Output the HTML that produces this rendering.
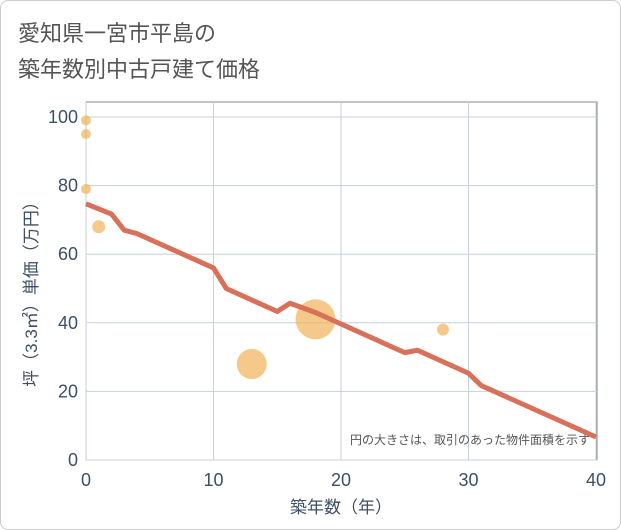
<!DOCTYPE html>
<html><head><meta charset="utf-8"><style>
body{margin:0;background:#fff;}
#card{position:absolute;left:0;top:0;width:619px;height:528px;border:1px solid #ccc;border-radius:8px;background:#fff;}
svg{position:absolute;left:0;top:0;font-family:"Liberation Sans","Noto Sans CJK JP",sans-serif;}
</style></head><body>
<div id="card"></div>
<svg id="chart" width="621" height="530">
<text x="18" y="41" font-size="22" fill="#555">愛知県一宮市平島の</text>
<text x="18" y="77" font-size="22" fill="#555">築年数別中古戸建て価格</text>
<rect x="86" y="102" width="511" height="358" fill="none" stroke="#888"/>
<g id="grid"></g><g id="bubbles"></g><g id="line"></g><g id="axes"></g>
<text x="590" y="444" font-size="12" fill="#555" text-anchor="end">円の大きさは、取引のあった物件面積を示す</text>
<text x="341" y="513" font-size="17" fill="#3d4f66" text-anchor="middle">築年数（年）</text>
<text transform="translate(37,290) rotate(-90)" font-size="17" fill="#3d4f66" text-anchor="middle">坪（3.3㎡）単価（万円）</text>
</svg>
<script>
const xTicks=[0,10,20,30,40];
const yTicks=[0,20,40,60,80,100];
const bubbleX=[0,0,0,1,13,18,28];
const bubbleY=[99,95,79,68,28,41,38];
const bubbleR=[5,5,5,6.5,15,20,6];
const lineX=[0,2,3,4,10,11,15,16,18,25,26,30,31,40];
const lineY=[74.7,71.7,67,66,56,50,43.3,45.7,43,31.3,32,25.3,21.7,6.7];
const NS="http://www.w3.org/2000/svg";
const sx=v=>86+v*12.75, sy=v=>460-v*3.43;
function mk(t,a,p){const e=document.createElementNS(NS,t);for(const k in a)e.setAttribute(k,a[k]);p.appendChild(e);return e;}
const g=document.getElementById('grid'),ax=document.getElementById('axes');
xTicks.forEach(v=>{
 const l=mk('line',{x1:sx(v),x2:sx(v),y1:102,y2:460,stroke:'#c5d0dc'},g);
 
 
 const t=mk('text',{x:sx(v),y:486,'font-size':18,fill:'#3d4f66','text-anchor':'middle'},ax);t.textContent=v;
 
 
});
yTicks.forEach(v=>{
 const l=mk('line',{x1:86,x2:597,y1:sy(v),y2:sy(v),stroke:'#c5d0dc'},g);
 
 
 const t=mk('text',{x:78,y:sy(v)+6,'font-size':18,fill:'#3d4f66','text-anchor':'end'},ax);t.textContent=v;
 
 
});
const b=document.getElementById('bubbles');
bubbleX.forEach((x,i)=>{
 const c=mk('circle',{cx:sx(x),cy:sy(bubbleY[i]),r:bubbleR[i],fill:'#f0b257','fill-opacity':0.7},b);
 
 
});
const p=mk('polyline',{points:lineX.map((x,i)=>sx(x)+','+sy(lineY[i])).join(' '),fill:'none',stroke:'#d9705a','stroke-width':5,'stroke-linejoin':'round'},document.getElementById('line'));


</script>
</body></html>
